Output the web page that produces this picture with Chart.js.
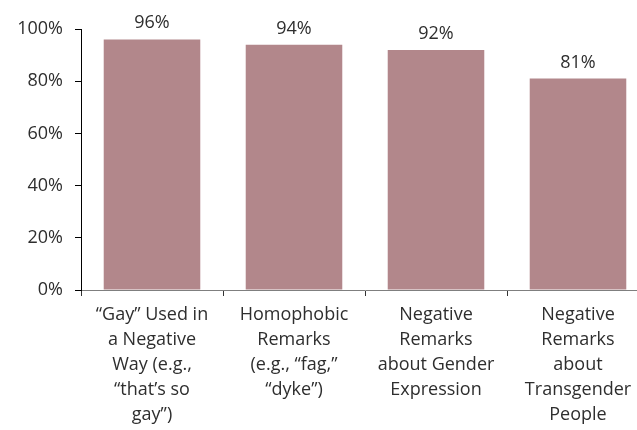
<!DOCTYPE html>
<html>
<head>
<meta charset="utf-8">
<script src="https://cdn.jsdelivr.net/npm/chart.js@4"></script>
<style>
    html, body { margin: 0; padding: 0; background: #fff; overflow: hidden; }
    #wrap { width: 660px; height: 430px; position: relative; }
</style>
</head>
<body>
<div id="wrap"><canvas id="remarksChart"></canvas></div>
<script>
const categories = [
    ["\u201cGay\u201d Used in", "a Negative", "Way (e.g.,", "\u201cthat\u2019s so", "gay\u201d)"],
    ["Homophobic", "Remarks", "(e.g., \u201cfag,\u201d", "\u201cdyke\u201d)"],
    ["Negative", "Remarks", "about Gender", "Expression"],
    ["Negative", "Remarks", "about", "Transgender", "People"]
];
const percentages = [96, 94, 92, 81];
const yTicks = [0, 20, 40, 60, 80, 100];

const barColor = "#b2878b";
const textColor = "#2e2e2e";
const fontFamily = "'Open Sans', 'Liberation Sans', sans-serif";

// draws the value above each bar
const valueLabels = {
    id: "valueLabels",
    afterDatasetsDraw(chart) {
        const ctx = chart.ctx;
        const meta = chart.getDatasetMeta(0);
        ctx.save();
        ctx.font = "18px " + fontFamily;
        ctx.fillStyle = textColor;
        ctx.textAlign = "center";
        ctx.textBaseline = "alphabetic";
        meta.data.forEach((bar, i) => {
            ctx.fillText(percentages[i] + "%", bar.x, bar.y - 11);
        });
        ctx.restore();
    }
};

const ctx = document.getElementById("remarksChart").getContext("2d");

new Chart(ctx, {
    type: "bar",
    data: {
        labels: categories,
        datasets: [{
            data: percentages,
            backgroundColor: barColor,
            borderWidth: 0,
            barPercentage: 0.68,
            categoryPercentage: 1
        }]
    },
    options: {
        responsive: true,
        maintainAspectRatio: false,
        animation: false,
        layout: {
            padding: { top: 29, right: 11, left: 0, bottom: 0 }
        },
        plugins: {
            legend: { display: false },
            tooltip: { enabled: false }
        },
        scales: {
            x: {
                grid: {
                    display: true,
                    drawOnChartArea: false,
                    drawTicks: true,
                    tickLength: 6,
                    color: "#333333",
                    offset: true
                },
                border: { display: true, color: "#7f7f7f", width: 1 },
                ticks: {
                    color: textColor,
                    font: { family: fontFamily, size: 18, lineHeight: 1.39 },
                    maxRotation: 0,
                    autoSkip: false,
                    padding: 6
                },
                afterFit(scale) {
                    scale.height = 140;
                }
            },
            y: {
                min: 0,
                max: 100,
                afterBuildTicks(scale) {
                    scale.ticks = yTicks.map(v => ({ value: v }));
                },
                grid: {
                    display: true,
                    drawOnChartArea: false,
                    drawTicks: true,
                    tickLength: 6,
                    color: "#000000"
                },
                border: { display: true, color: "#000000", width: 1 },
                ticks: {
                    color: textColor,
                    font: { family: fontFamily, size: 18 },
                    padding: 12,
                    callback: v => v + "%"
                },
                afterFit(scale) {
                    scale.width = 81;
                }
            }
        }
    },
    plugins: [valueLabels]
});
</script>
</body>
</html>
